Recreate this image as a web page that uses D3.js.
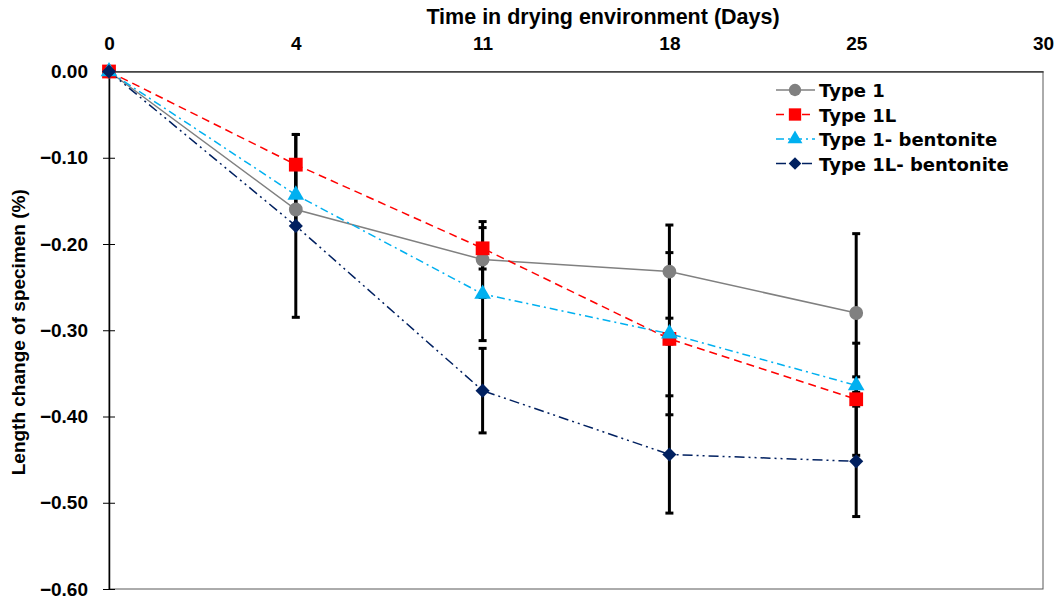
<!DOCTYPE html>
<html>
<head>
<meta charset="utf-8">
<script src="https://cdn.jsdelivr.net/npm/d3@7"></script>
<style>
  body { margin: 0; background: #fff; }
  svg { font-family: "DejaVu Sans", sans-serif; font-weight: bold; }
  .titre { font-family: "Liberation Sans", Arial, sans-serif; }
</style>
</head>
<body>
<svg id="chart" width="1057" height="601"></svg>
<script>
// données
var days = ["0", "4", "11", "18", "25", "30"];
var names = ["Type 1", "Type 1L", "Type 1- bentonite", "Type 1L- bentonite"];
var type1 = [0, -0.160, -0.218, -0.232, -0.280];
var type1L = [0, -0.108, -0.205, -0.310, -0.380];
var type1B = [0, -0.143, -0.258, -0.304, -0.364];
var type1LB = [0, -0.179, -0.370, -0.444, -0.452];
// écarts (barres d'erreur symétriques)
var err1 = [0, 0.017, 0.044, 0.054, 0.092];
var err1L = [0, 0.035, 0.024, 0.006, 0.065];
var err1B = [0, 0.036, 0.054, 0.094, 0.010];
var err1LB = [0, 0.106, 0.049, 0.068, 0.064];
var yTicks = [0, -0.1, -0.2, -0.3, -0.4, -0.5, -0.6];

// "top" est réservé par window, d'où ces noms
var pLeft = 109, pRight = 1043, pTop = 71.5, pBottom = 589;

var svg = d3.select("#chart");

var x = d3.scalePoint().domain(days).range([pLeft, pRight]);
var y = d3.scaleLinear().domain([-0.6, 0]).range([pBottom, pTop]);

// losange = carré tourné de 45°
var series = [
  { name: names[0], values: type1, err: err1, color: "#808080", dash: null, shape: d3.symbolCircle, size: 150, rot: 0 },
  { name: names[1], values: type1L, err: err1L, color: "#FF0000", dash: "8,5", shape: d3.symbolSquare, size: 190, rot: 0 },
  { name: names[2], values: type1B, err: err1B, color: "#00B0F0", dash: "8,4,2,4", shape: d3.symbolTriangle, size: 120, rot: 0 },
  { name: names[3], values: type1LB, err: err1LB, color: "#002060", dash: "10,4,2,4,2,4", shape: d3.symbolSquare, size: 100, rot: 45 }
];

// cadre de la zone de tracé
svg.append("rect")
  .attr("x", pLeft).attr("y", pTop)
  .attr("width", pRight - pLeft).attr("height", pBottom - pTop)
  .attr("fill", "none").attr("stroke", "#595959").attr("stroke-width", 1);

// axe des x en haut (croise à 0)
var xAxis = svg.append("g")
  .attr("transform", `translate(0,${pTop})`)
  .call(d3.axisTop(x).tickSize(0).tickPadding(22));
xAxis.select(".domain").attr("stroke", "#404040").attr("stroke-width", 1.5);
xAxis.selectAll("text").attr("font-size", 19).attr("font-family", null).attr("fill", "#000");

svg.append("text")
  .attr("class", "titre")
  .attr("x", 603).attr("y", 24)
  .attr("text-anchor", "middle")
  .attr("font-size", 21.5)
  .text("Time in drying environment (Days)");

// axe des y
var yAxis = svg.append("g")
  .attr("transform", `translate(${pLeft},0)`)
  .call(d3.axisLeft(y).tickValues(yTicks).tickFormat(d3.format(".2f")).tickSizeInner(6).tickSizeOuter(0).tickPadding(15));
yAxis.select(".domain").attr("stroke", "#000").attr("stroke-width", 1.5);
yAxis.selectAll(".tick line").attr("stroke", "#000").attr("x2", 6).attr("x1", -6);
yAxis.selectAll("text").attr("font-size", 19).attr("font-family", null).attr("fill", "#000");

svg.append("text")
  .attr("class", "titre")
  .attr("transform", `translate(25,${(pTop + pBottom) / 2 + 2}) rotate(-90)`)
  .attr("text-anchor", "middle")
  .attr("font-size", 19)
  .text("Length change of specimen (%)");

// barres d'erreur
series.forEach(s => {
  var g = svg.append("g").attr("stroke", "#000").attr("stroke-width", 3);
  s.values.forEach((v, i) => {
    if (!s.err[i]) return;
    var cx = x(days[i]);
    g.append("line").attr("x1", cx).attr("x2", cx).attr("y1", y(v + s.err[i])).attr("y2", y(v - s.err[i]));
    [v + s.err[i], v - s.err[i]].forEach(e => {
      g.append("line").attr("x1", cx - 4).attr("x2", cx + 4).attr("y1", y(e)).attr("y2", y(e));
    });
  });
});

var line = d3.line().x((d, i) => x(days[i])).y(d => y(d));

series.forEach(s => {
  svg.append("path")
    .datum(s.values)
    .attr("fill", "none")
    .attr("stroke", s.color)
    .attr("stroke-width", 1.5)
    .attr("stroke-dasharray", s.dash)
    .attr("d", line);
});

series.forEach(s => {
  svg.append("g").selectAll("path")
    .data(s.values)
    .join("path")
    .attr("transform", (d, i) => `translate(${x(days[i])},${y(d)}) rotate(${s.rot})`)
    .attr("d", d3.symbol().type(s.shape).size(s.size))
    .attr("fill", s.color);
});

// légende
var legend = svg.append("g");
series.forEach((s, i) => {
  var ly = 90 + i * 24.5;
  legend.append("line")
    .attr("x1", 776).attr("x2", 815).attr("y1", ly).attr("y2", ly)
    .attr("stroke", s.color).attr("stroke-width", 1.5)
    .attr("stroke-dasharray", s.dash);
  legend.append("path")
    .attr("transform", `translate(795,${ly}) rotate(${s.rot})`)
    .attr("d", d3.symbol().type(s.shape).size(s.size * 0.8))
    .attr("fill", s.color);
  legend.append("text")
    .attr("x", 819).attr("y", ly + 7)
    .attr("font-size", 18)
    .text(s.name);
});
</script>
</body>
</html>
